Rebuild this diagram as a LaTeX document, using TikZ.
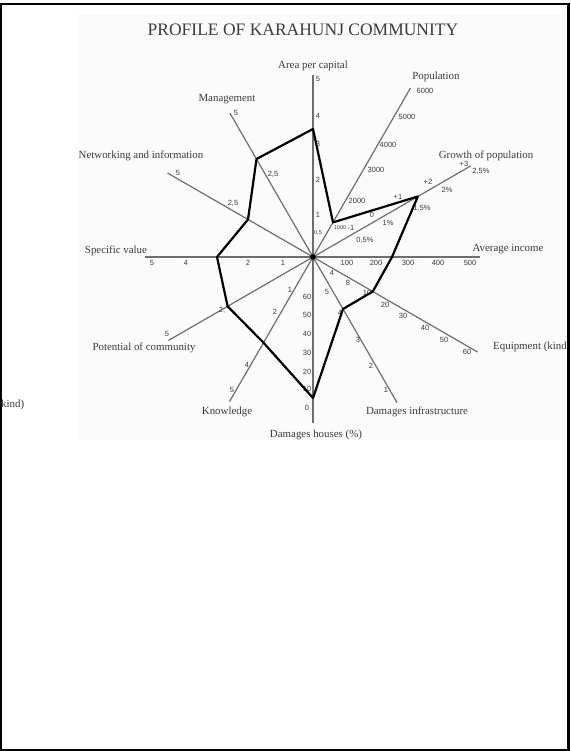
\documentclass[tikz,border=0pt]{standalone}
\usepackage{fontspec}
\setmainfont{Liberation Serif}
\newfontfamily\ticksf{Liberation Sans}
\definecolor{axisgray}{HTML}{6E6E6E}
\definecolor{inkgray}{HTML}{3C3C3C}
\definecolor{panel}{HTML}{FBFBFB}
\begin{document}
\begin{tikzpicture}[x=1pt,y=-1pt,
  axisline/.style={draw=axisgray,line width=1.2pt},
  profile/.style={draw=black,line width=2.2pt,line join=round},
  axislabel/.style={inner sep=0pt,text=inkgray,font=\fontsize{10.9}{12}\selectfont},
  ticklabel/.style={inner sep=0pt,text=inkgray,font=\ticksf\fontsize{7.5}{9}\selectfont},
  tinylabel/.style={inner sep=0pt,text=inkgray,font=\ticksf\fontsize{5.5}{6}\selectfont},
  titlelabel/.style={inner sep=0pt,text=inkgray,font=\fontsize{17.5}{20}\selectfont}]
\useasboundingbox (0,0) rectangle (570,751);
\fill[white] (0,0) rectangle (570,751);
\fill[panel] (77,14) rectangle (566,440);

% centre of the radar and the ends of its twelve axes
\coordinate (c) at (313,257);
\coordinate (eArea) at (313,75);
\coordinate (ePop) at (410.5,88);
\coordinate (eGrowth) at (470.6,166);
\coordinate (eIncome) at (480,257);
\coordinate (eEquip) at (477.5,352);
\coordinate (eInfra) at (397,402.5);
\coordinate (eHouses) at (313,423);
\coordinate (eKnow) at (229.5,401.6);
\coordinate (ePot) at (168.4,340.5);
\coordinate (eSpec) at (145,257);
\coordinate (eNet) at (167.5,173);
\coordinate (eMan) at (230,113.2);

\foreach \e in {eArea,ePop,eGrowth,eIncome,eEquip,eInfra,eHouses,eKnow,ePot,eSpec,eNet,eMan}
  \draw[axisline] (c) -- (\e);

% profile values on each axis
\coordinate (vArea) at (313,129);
\coordinate (vPop) at (333,222.4);
\coordinate (vGrowth) at (417.8,196.5);
\coordinate (vIncome) at (392,257);
\coordinate (vEquip) at (372.8,291.5);
\coordinate (vInfra) at (343,309);
\coordinate (vHouses) at (313,398);
\coordinate (vKnow) at (263.5,342.7);
\coordinate (vPot) at (227.6,306.3);
\coordinate (vSpec) at (217,257);
\coordinate (vNet) at (248,219.5);
\coordinate (vMan) at (256.5,159);

% tick values
\foreach \x/\y/\t [count=\i] in {
  318/79/5, 318/116/4, 318/144/3, 318/180/2, 318/215/1,
  425/91/6000, 407/117/5000, 388/145/4000, 376/170/3000, 357/201/2000,
  464/164/+3, 481/171/{2,5\%}, 428/182/+2, 447/190/2\%, 398/197/+1, 422/208/{1,5\%},
  372/215/0, 388/223/1\%, 365/240/{0,5\%}, 351/228/-1,
  347/263/100, 376/263/200, 408/263/300, 438/263/400, 470/263/500,
  332/273/4, 348/283/8, 367/293/10, 385/305/20, 403/316/30, 425/328/40, 444/340/50, 467/352/60,
  327/292/5, 340/313/4, 358/340/3, 371/366/2, 386/390/1,
  307/297/60, 307/315/50, 307/334/40, 307/353/30, 307/372/20, 307/389/10, 307/408/0,
  290/290/1, 275/312/2, 247/365/4, 232/390/5,
  167/334/5, 222/310/{2,},
  152/263/5, 186/263/4, 248/263/2, 283/263/1,
  178/173/5, 233/203/{2,5},
  236/113/5, 273/174/{2,5}}
  \node[ticklabel] (tick\i) at (\x,\y) {\t};
\node[tinylabel] (tickAreaHalf) at (318,233) {0,5};
\node[tinylabel] (tickPopLow) at (340,228) {1000};

\draw[profile] (vArea) -- (vPop) -- (vGrowth) -- (vIncome) -- (vEquip) -- (vInfra)
  -- (vHouses) -- (vKnow) -- (vPot) -- (vSpec) -- (vNet) -- (vMan) -- cycle;
\fill[black] (c) circle (2.8pt);

% axis names and title
\node[titlelabel] (title) at (303,30) {PROFILE OF KARAHUNJ COMMUNITY};
\node[axislabel] (lArea) at (313,66) {Area per capital};
\node[axislabel] (lPop) at (436,77) {Population};
\node[axislabel] (lGrowth) at (486,156) {Growth of population};
\node[axislabel] (lIncome) at (508,249) {Average income};
\node[axislabel,anchor=west] (lEquip) at (493,347) {Equipment (kind)};
\node[axislabel,anchor=west] (lEquipWrap) at (1,405) {kind)};
\node[axislabel] (lInfra) at (417,412) {Damages infrastructure};
\node[axislabel] (lHouses) at (316,435) {Damages houses (\%)};
\node[axislabel] (lKnow) at (227,412) {Knowledge};
\node[axislabel] (lPot) at (144,348) {Potential of community};
\node[axislabel] (lSpec) at (116,251) {Specific value};
\node[axislabel] (lNet) at (141,156) {Networking and information};
\node[axislabel] (lMan) at (227,99) {Management};

% page frame
\draw[line width=2.6pt] (1,4) -- (568.7,4) -- (568.7,750) -- (1,750) -- cycle;
\end{tikzpicture}
\end{document}
